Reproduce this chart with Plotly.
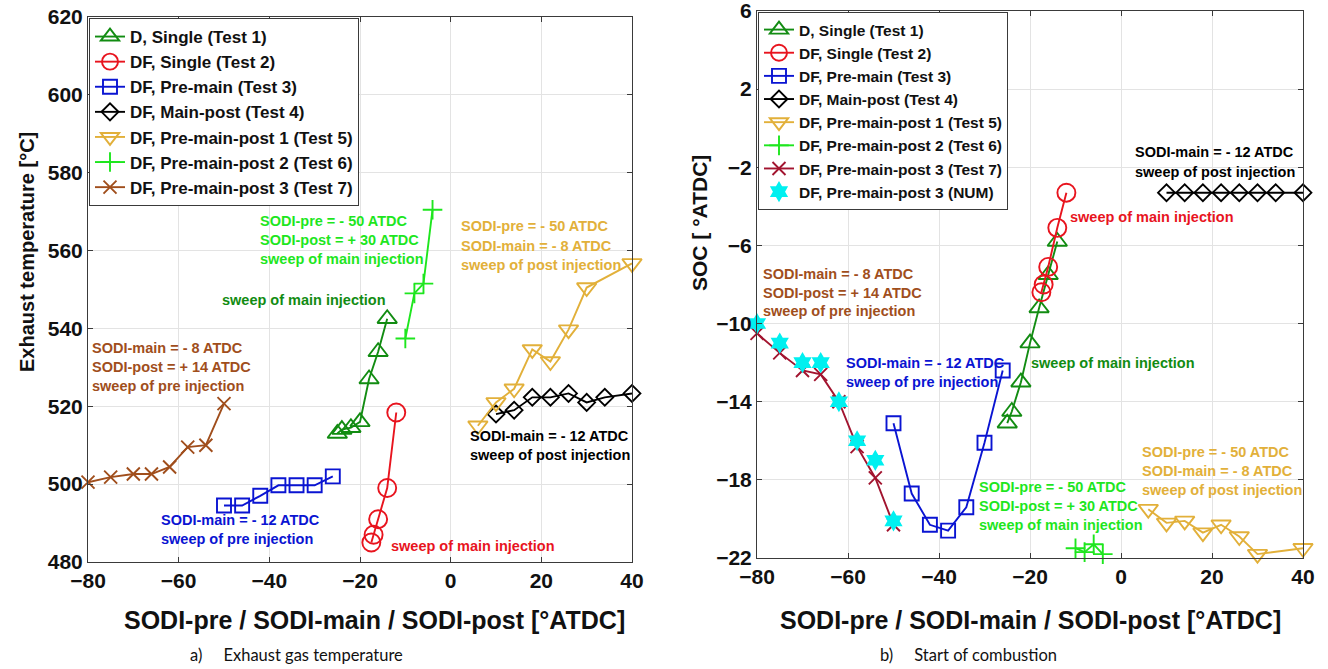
import plotly.graph_objects as go

# ---------------- data: left panel (exhaust temperature) ----------------
t1_x = [-25, -24, -22, -20, -18, -16, -14]
t1_T = [513, 514, 514.5, 516, 527, 534, 542.5]
t2_x = [-17.5, -17, -16, -14, -12]
t2_T = [485, 487, 491, 499, 518.4]
t3_x = [-50, -46, -42, -38, -34, -30, -26]
t3_T = [494.5, 494.5, 497, 499.7, 499.7, 499.7, 502]
t4_x = [10, 14, 18, 22, 26, 30, 34, 40]
t4_T = [518, 519, 522.3, 522.3, 523.3, 521, 522.3, 523.3]
t5_x = [6, 10, 14, 18, 22, 26, 30, 40]
t5_T = [515, 521, 524.5, 534.6, 531.5, 539.7, 550.5, 556.7]
t6_x = [-10, -8, -6, -4]
t6_T = [537.4, 549, 551.5, 570.5]
t7_x = [-80, -75, -70, -66, -62, -58, -54, -50]
t7_T = [500.5, 501.8, 502.6, 502.6, 504.4, 509.5, 510, 520.7]

# ---------------- data: right panel (start of combustion) ----------------
t1_S = [-15.1, -14.5, -13.0, -11.0, -9.2, -7.5, -5.8]
t2_S = [-8.4, -8.0, -7.1, -5.1, -3.3]
t3_S = [-15.1, -18.7, -20.3, -20.6, -19.4, -16.1, -12.4]
t4_S = [-3.3, -3.3, -3.3, -3.3, -3.3, -3.3, -3.3, -3.3]
t5_S = [-19.5, -20.2, -20.1, -20.7, -20.3, -20.9, -21.8, -21.5]
t6_S = [-21.5, -21.7, -21.3, -21.8]
t7_S = [-10.5, -11.5, -12.4, -12.6, -14.0, -16.3, -17.9, -20.3]
num_x = [-80, -75, -70, -66, -62, -58, -54, -50]
num_S = [-10.0, -11.0, -12.0, -12.0, -14.0, -16.0, -17.0, -20.1]

names = ["D, Single (Test 1)", "DF, Single (Test 2)", "DF, Pre-main (Test 3)",
         "DF, Main-post (Test 4)", "DF, Pre-main-post 1 (Test 5)",
         "DF, Pre-main-post 2 (Test 6)", "DF, Pre-main-post 3 (Test 7)",
         "DF, Pre-main-post 3 (NUM)"]

x_ticks = [-80, -60, -40, -20, 0, 20, 40]
yL_ticks = [480, 500, 520, 540, 560, 580, 600, 620]
yR_ticks = [-22, -18, -14, -10, -6, -2, 2, 6]

GREEN = "#128C12"
RED = "#E8141E"
BLUE = "#0A14D2"
BLACK = "#000000"
YELLOW = "#E2B03A"
LIME = "#1EE61E"
BROWN = "#A04E1C"
MAROON = "#A2142F"
CYAN = "#00F0F0"

FONT = "Liberation Sans"

styles = [
    dict(symbol="triangle-up-open", size=17, color=GREEN),
    dict(symbol="circle-open", size=18, color=RED),
    dict(symbol="square-open", size=14, color=BLUE),
    dict(symbol="diamond-open", size=13, color=BLACK),
    dict(symbol="triangle-down-open", size=17, color=YELLOW),
    dict(symbol="cross-thin-open", size=14, color=LIME),
    dict(symbol="x-thin-open", size=13, color=BROWN),
]

fig = go.Figure()

left_data = [(t1_x, t1_T), (t2_x, t2_T), (t3_x, t3_T), (t4_x, t4_T),
             (t5_x, t5_T), (t6_x, t6_T), (t7_x, t7_T)]
right_data = [(t1_x, t1_S), (t2_x, t2_S), (t3_x, t3_S), (t4_x, t4_S),
              (t5_x, t5_S), (t6_x, t6_S), (t7_x, t7_S)]

for i, ((xs, ys), st) in enumerate(zip(left_data, styles)):
    fig.add_trace(go.Scatter(
        x=xs, y=ys, mode="lines+markers", name=names[i], cliponaxis=False,
        line=dict(color=st["color"], width=1.9),
        marker=dict(symbol=st["symbol"], size=st["size"], color=st["color"],
                    line=dict(width=1.9, color=st["color"])),
        xaxis="x", yaxis="y", legend="legend", legendgroup="L%d" % i))

for i, ((xs, ys), st) in enumerate(zip(right_data, styles)):
    col = MAROON if i == 6 else st["color"]
    fig.add_trace(go.Scatter(
        x=xs, y=ys, mode="lines+markers", name=names[i], cliponaxis=False,
        line=dict(color=col, width=1.9),
        marker=dict(symbol=st["symbol"], size=st["size"], color=col,
                    line=dict(width=1.9, color=col)),
        xaxis="x2", yaxis="y2", legend="legend2", legendgroup="R%d" % i))

fig.add_trace(go.Scatter(
    x=num_x, y=num_S, mode="markers", name=names[7], cliponaxis=False,
    marker=dict(symbol="hexagram", size=16, color=CYAN, line=dict(width=0)),
    xaxis="x2", yaxis="y2", legend="legend2", legendgroup="R7"))

axis_common = dict(showgrid=True, gridcolor="#E3E3E3", gridwidth=1,
                   zeroline=False, showline=True, linecolor="#3A3A3A",
                   linewidth=1, mirror="ticks", ticks="inside", ticklen=5,
                   tickcolor="#3A3A3A", automargin=False,
                   ticklabeloverflow="allow",
                   tickfont=dict(family=FONT, size=21, color="#111111",
                                 weight="bold"))

fig.update_layout(
    width=1328, height=669,
    margin=dict(l=0, r=0, t=0, b=0, autoexpand=False),
    paper_bgcolor="white", plot_bgcolor="white",
    showlegend=True,
    xaxis=dict(domain=[88 / 1328, 632 / 1328], range=[-80, 40],
               tickvals=x_ticks, anchor="y", **axis_common),
    yaxis=dict(domain=[1 - 562 / 669, 1 - 17 / 669], range=[480, 620],
               tickvals=yL_ticks, anchor="x", **axis_common),
    xaxis2=dict(domain=[757 / 1328, 1303 / 1328], range=[-80, 40],
                tickvals=x_ticks, anchor="y2", **axis_common),
    yaxis2=dict(domain=[1 - 558 / 669, 1 - 11 / 669], range=[-22, 6],
                tickvals=yR_ticks, anchor="x2", **axis_common),
    legend=dict(x=89 / 1328, y=1 - 18 / 669, xanchor="left", yanchor="top",
                bgcolor="white", bordercolor="#3A3A3A", borderwidth=1,
                font=dict(family=FONT, size=17, color="#111111", weight="bold"),
                tracegroupgap=0, traceorder="normal", itemwidth=30),
    legend2=dict(x=758 / 1328, y=1 - 12 / 669, xanchor="left", yanchor="top",
                 bgcolor="white", bordercolor="#3A3A3A", borderwidth=1,
                 font=dict(family=FONT, size=15.5, color="#111111", weight="bold"),
                 tracegroupgap=0, traceorder="normal", itemwidth=30),
)

# ---------------- annotations ----------------
left_notes = [
    (LIME, -42.3, [567.7, 562.8, 557.9],
     ["SODI-pre = - 50 ATDC", "SODI-post = + 30 ATDC", "sweep of main injection"]),
    (GREEN, -50.7, [547.2], ["sweep of main injection"]),
    (YELLOW, 2.0, [566.2, 561.3, 556.4],
     ["SODI-pre = - 50 ATDC", "SODI-main = - 8 ATDC", "sweep of post injection"]),
    (BROWN, -79.4, [534.9, 530.0, 525.1],
     ["SODI-main = - 8 ATDC", "SODI-post = + 14 ATDC", "sweep of pre injection"]),
    (BLUE, -64.2, [490.8, 485.9], ["SODI-main = - 12 ATDC", "sweep of pre injection"]),
    (BLACK, 4.0, [512.3, 507.4], ["SODI-main = - 12 ATDC", "sweep of post injection"]),
    (RED, -13.3, [484.1], ["sweep of main injection"]),
]
right_notes = [
    (BLACK, 2.9, [-1.23, -2.26], ["SODI-main = - 12 ATDC", "sweep of post injection"]),
    (RED, -11.4, [-4.56], ["sweep of main injection"]),
    (GREEN, -20.0, [-12.0], ["sweep of main injection"]),
    (BROWN, -78.9, [-7.44, -8.41, -9.38],
     ["SODI-main = - 8 ATDC", "SODI-post = + 14 ATDC", "sweep of pre injection"]),
    (BLUE, -60.7, [-12.0, -12.97], ["SODI-main = - 12 ATDC", "sweep of pre injection"]),
    (LIME, -31.4, [-18.36, -19.33, -20.3],
     ["SODI-pre = - 50 ATDC", "SODI-post = + 30 ATDC", "sweep of main injection"]),
    (YELLOW, 4.4, [-16.56, -17.54, -18.51],
     ["SODI-pre = - 50 ATDC", "SODI-main = - 8 ATDC", "sweep of post injection"]),
]

for notes, xr, yr in [(left_notes, "x", "y"), (right_notes, "x2", "y2")]:
    for col, xx, ys, texts in notes:
        for yy, tx in zip(ys, texts):
            fig.add_annotation(x=xx, y=yy, xref=xr, yref=yr, text=tx,
                               showarrow=False, xanchor="left", yanchor="middle",
                               borderpad=0,
                               font=dict(family=FONT, size=14.5, color=col,
                                         weight="bold"))

# axis titles as annotations (positioned like the reference)
title_font = dict(family=FONT, size=20, color="#111111", weight="bold")
fig.add_annotation(x=27 / 1328, y=1 - 252 / 669, xref="paper", yref="paper",
                   text="Exhaust temperature [°C]", textangle=-90,
                   showarrow=False, xanchor="center", yanchor="middle",
                   font=title_font)
fig.add_annotation(x=700 / 1328, y=1 - 223 / 669, xref="paper", yref="paper",
                   text="SOC [ °ATDC]", textangle=-90,
                   showarrow=False, xanchor="center", yanchor="middle",
                   font=dict(family=FONT, size=21, color="#111111", weight="bold"))
xt = "SODI-pre / SODI-main / SODI-post [°ATDC]"
xt_font = dict(family=FONT, size=25, color="#111111", weight="bold")
fig.add_annotation(x=374 / 1328, y=1 - 620 / 669, xref="paper", yref="paper",
                   text=xt, showarrow=False, xanchor="center", yanchor="middle",
                   font=xt_font)
fig.add_annotation(x=1030 / 1328, y=1 - 620 / 669, xref="paper", yref="paper",
                   text=xt, showarrow=False, xanchor="center", yanchor="middle",
                   font=xt_font)

cap_font = dict(family="Lato", size=16.5, color="#111111")
fig.add_annotation(x=188 / 1328, y=1 - 655 / 669, xref="paper", yref="paper",
                   text="a)     Exhaust gas temperature", showarrow=False,
                   xanchor="left", yanchor="middle", font=cap_font)
fig.add_annotation(x=878 / 1328, y=1 - 655 / 669, xref="paper", yref="paper",
                   text="b)     Start of combustion", showarrow=False,
                   xanchor="left", yanchor="middle", font=cap_font)

fig.write_html(
    "out.html",
    config={"displayModeBar": False},
    post_script="document.body.style.margin='0px';"
                "document.body.style.padding='0px';"
                "document.documentElement.style.overflow='hidden';")
